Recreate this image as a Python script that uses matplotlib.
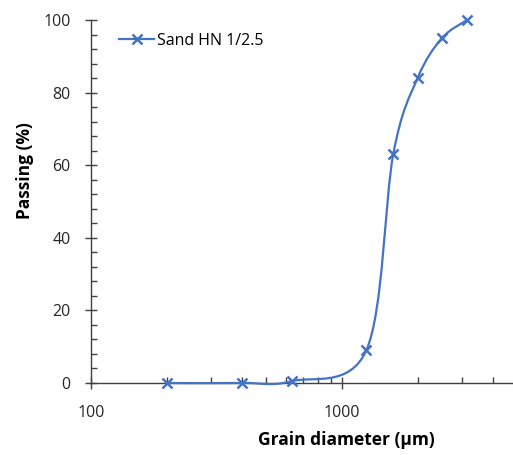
import numpy as np
import matplotlib
matplotlib.use("Agg")
from matplotlib import pyplot as plt
from matplotlib.path import Path
from matplotlib.patches import PathPatch
from matplotlib.lines import Line2D
from matplotlib.ticker import MultipleLocator, LogLocator, FixedLocator, NullFormatter

plt.rcParams['font.family'] = ['Open Sans', 'DejaVu Sans']

# sieve sizes (um) and cumulative passing (%)
sizes = [200, 400, 630, 1250, 1600, 2000, 2500, 3150]
passing = [0, 0, 0.5, 9, 63, 84, 95, 100]
series_name = "Sand HN 1/2.5"

blue = '#4472C4'
grey = '#404040'

fig = plt.figure(figsize=(5.13, 4.55), dpi=100)
ax = fig.add_axes([91/513, 72/455, 422/513, 363/455])
ax.set_xscale('log')
ax.set_xlim(100, 10 ** (2 + 422/251))
ax.set_ylim(0, 100)

# smoothed line like Excel (Catmull-Rom bezier in log-x space)
lx = np.log10(sizes)
py = np.array(passing, dtype=float)
pts = np.column_stack([lx, py])
verts = [pts[0]]
codes = [Path.MOVETO]
n = len(pts)
for i in range(n - 1):
    p0 = pts[max(i - 1, 0)]
    p1 = pts[i]
    p2 = pts[i + 1]
    p3 = pts[min(i + 2, n - 1)]
    c1 = p1 + (p2 - p0) / 6
    c2 = p2 - (p3 - p1) / 6
    verts += [c1, c2, p2]
    codes += [Path.CURVE4] * 3
verts = np.array(verts)
verts[:, 0] = 10 ** verts[:, 0]
curve = PathPatch(Path(verts, codes), facecolor='none', edgecolor=blue, lw=1.6,
                  transform=ax.transData, zorder=3, clip_on=False)
ax.add_patch(curve)

ax.plot(sizes, passing, linestyle='none', marker='x', color=blue, ms=7, mew=1.8,
        zorder=4, clip_on=False)

handle = Line2D([], [], color=blue, lw=1.6, marker='x', ms=7, mew=1.8)
ax.legend([handle], [series_name], loc='upper left', bbox_to_anchor=(0.04, 0.995),
          frameon=False, fontsize=11.5, handlelength=2.2, handletextpad=0.2,
          borderaxespad=0.3)

for s in ['top', 'right']:
    ax.spines[s].set_visible(False)
for s in ['left', 'bottom']:
    ax.spines[s].set_color(grey)
    ax.spines[s].set_linewidth(1.0)

ax.yaxis.set_major_locator(MultipleLocator(20))
ax.yaxis.set_minor_locator(MultipleLocator(4))
ax.xaxis.set_major_locator(FixedLocator([100, 1000]))
ax.xaxis.set_major_formatter(matplotlib.ticker.FixedFormatter(['100', '1000']))
ax.xaxis.set_minor_locator(LogLocator(base=10, subs=np.arange(2, 10)))
ax.xaxis.set_minor_formatter(NullFormatter())

ax.tick_params(which='major', direction='inout', length=9, width=1, color=grey,
               labelsize=11.5, labelcolor='#262626')
ax.tick_params(which='minor', direction='in', length=4, width=1, color=grey)
ax.tick_params(axis='y', which='major', pad=10)
ax.tick_params(axis='x', which='major', pad=11)

ax.set_xlabel('Grain diameter (µm)', fontsize=12.5, fontweight='bold')
ax.set_ylabel('Passing (%)', fontsize=12.5, fontweight='bold')
ax.xaxis.set_label_coords(0.604, -0.132)
ax.yaxis.set_label_coords(-0.135, 0.584)

fig.savefig('out.png', dpi=100)
